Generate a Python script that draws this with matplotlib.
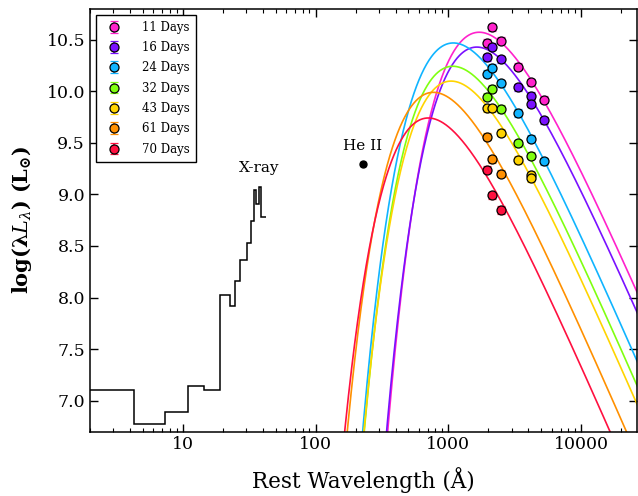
import numpy as np
import matplotlib
matplotlib.use("Agg")
import matplotlib.pyplot as plt
from matplotlib.ticker import FixedLocator, FuncFormatter, LogLocator, NullFormatter

plt.rcParams['font.family'] = ['DejaVu Serif']
plt.rcParams['mathtext.fontset'] = 'dejavuserif'

# epochs and colours
days = [11, 16, 24, 32, 43, 61, 70]
colors = ['#ff22cc', '#7a10ff', '#10b4ff', '#80ff10', '#ffd400', '#ff9000', '#ff1040']

# blackbody fits (temperature in K, log bolometric luminosity in Lsun)
bb_temp = [21500, 22400, 33700, 34000, 35000, 47600, 52000]
bb_logL = [10.707, 10.563, 10.603, 10.377, 10.233, 10.124, 9.875]

# UV/optical photometry (rest wavelength in A, log lambda L_lambda)
phot_wave = [
    [1955, 2148, 2473, 3336, 4210, 5230],
    [1955, 2148, 2473, 3336, 4210, 4210, 5230],
    [1955, 2148, 2473, 3336, 4210, 5230],
    [1955, 2148, 2473, 3336, 4210],
    [1955, 2148, 2473, 3336, 4210, 4210],
    [1955, 2148, 2473],
    [1955, 2148, 2473],
]
phot_logL = [
    [10.47, 10.62, 10.49, 10.24, 10.09, 9.92],
    [10.33, 10.435, 10.31, 10.04, 9.96, 9.88, 9.72],
    [10.17, 10.23, 10.08, 9.79, 9.54, 9.32],
    [9.95, 10.025, 9.83, 9.495, 9.375],
    [9.835, 9.835, 9.60, 9.335, 9.19, 9.155],
    [9.56, 9.34, 9.20],
    [9.24, 8.99, 8.85],
]
phot_err = 0.035

# X-ray spectrum (bin edges in A, log lambda L_lambda)
xray_edges = [1.24, 4.27, 7.40, 10.9, 14.5, 19.0, 22.5, 24.9, 26.8, 30.4,
              32.4, 34.3, 35.8, 37.3, 39.1, 42.1]
xray_logL = [7.10, 6.775, 6.89, 7.14, 7.105, 8.02, 7.92, 8.16, 8.365, 8.525,
             8.745, 9.045, 8.91, 9.07, 8.785]

# He II point
heii_wave = 226
heii_logL = 9.295


def bb_curve(lam, T, logL):
    x = 1.4388e8 / (lam * T)
    return logL + np.log10(15 / np.pi**4 * x**4 / np.expm1(x))


fig = plt.figure(figsize=(6.38, 4.96), dpi=100)
ax = fig.add_axes([0.141, 0.130, 0.858, 0.852])

lam = np.logspace(2, 4.5, 800)
for T, L, c in zip(bb_temp, bb_logL, colors):
    ax.plot(lam, bb_curve(lam, T, L), color=c, lw=1.2, zorder=2)

for d, w, v, c in zip(days, phot_wave, phot_logL, colors):
    ax.errorbar(w, v, yerr=phot_err, fmt='o', ms=6.5, mfc=c, mec='black',
                mew=0.9, ecolor=c, elinewidth=1.2, capsize=3, capthick=1.2,
                label='%d Days' % d, zorder=4)

ax.stairs(xray_logL, xray_edges, baseline=None, color='black', lw=1.1)
ax.text(37.4, 9.257, 'X-ray', ha='center', va='center', fontsize=11)

ax.errorbar([heii_wave], [heii_logL], yerr=0.02, fmt='o', ms=5, color='black',
            capsize=2, zorder=4)
ax.text(heii_wave, 9.466, 'He II', ha='center', va='center', fontsize=11)

ax.set_xscale('log')
ax.set_xlim(2, 26500)
ax.set_ylim(6.7, 10.8)

ax.xaxis.set_major_locator(FixedLocator([10, 100, 1000, 10000]))
ax.xaxis.set_major_formatter(FuncFormatter(lambda v, p: '%d' % v))
ax.xaxis.set_minor_locator(LogLocator(base=10, subs=np.arange(2, 10)))
ax.xaxis.set_minor_formatter(NullFormatter())
ax.yaxis.set_major_locator(FixedLocator(np.arange(7.0, 10.51, 0.5)))
ax.yaxis.set_major_formatter(FuncFormatter(lambda v, p: '%.1f' % v))

ax.tick_params(which='both', direction='in', top=True, right=True, labelsize=12.5)
ax.tick_params(which='major', length=6, width=1)
ax.tick_params(which='minor', length=3, width=0.8)
for s in ax.spines.values():
    s.set_linewidth(1.1)

ax.set_xlabel(u'Rest Wavelength (\u00c5)', fontsize=15.5, labelpad=10)
ax.set_ylabel(r'$\mathbf{log(}\boldsymbol{\lambda L_{\lambda}}\mathbf{)\ (L_{\odot})}$',
              fontsize=15, labelpad=9)

leg = ax.legend(loc='upper left', fontsize=8.5, frameon=True, fancybox=False,
                edgecolor='black', framealpha=1, borderaxespad=0.5,
                labelspacing=0.62, handletextpad=1.4, borderpad=0.5)
leg.get_frame().set_linewidth(1.0)

fig.savefig('out.png', dpi=100)
